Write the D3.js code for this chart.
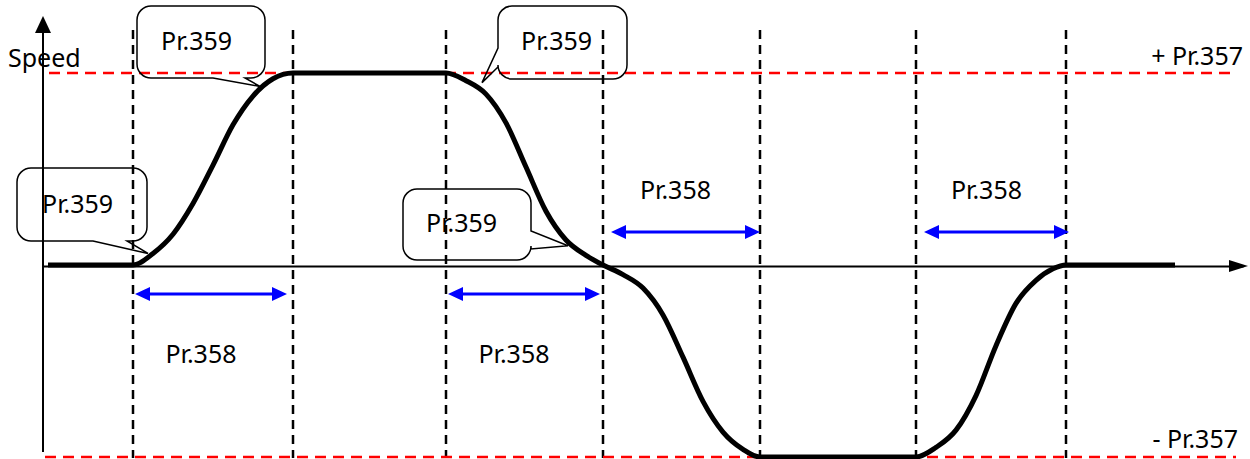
<!DOCTYPE html>
<html>
<head>
<meta charset="utf-8">
<script src="https://cdn.jsdelivr.net/npm/d3@7"></script>
<style>
  html, body { margin: 0; padding: 0; background: #fff; }
  svg { display: block; font-family: "Noto Sans", "Open Sans", sans-serif; }
</style>
</head>
<body>
<svg id="chart" width="1250" height="459"></svg>
<script>
// Time instants of the dashed markers (s-curve phase boundaries)
const timeKnots = [0.90, 2.50, 4.03, 5.60, 7.17, 8.73, 10.23];

// Speed profile (time, normalised speed)
const curveTime = [0.05, 0.90, 1.10, 1.30, 1.50, 1.70, 1.90, 2.10, 2.30, 2.50,
  4.03, 4.23, 4.43, 4.63, 4.83, 5.03, 5.23, 5.43, 5.60,
  5.80, 6.00, 6.20, 6.40, 6.60, 6.80, 7.00, 7.17,
  8.73, 8.93, 9.13, 9.33, 9.53, 9.73, 9.93, 10.10, 10.23, 11.32];
const curveSpeed = [0, 0, 0.06, 0.16, 0.32, 0.52, 0.73, 0.88, 0.97, 1,
  1, 0.96, 0.89, 0.74, 0.51, 0.28, 0.13, 0.05, 0,
  -0.05, -0.12, -0.26, -0.48, -0.71, -0.87, -0.96, -1,
  -1, -0.95, -0.86, -0.68, -0.42, -0.20, -0.08, -0.02, 0, 0];

// Speed limits
const limitValues = [1, -1];
const limitLabels = ["+ Pr.357", "- Pr.357"];

// Accel-time spans (between knot indices)
const spanFrom = [0, 2, 3, 5];
const spanTo = [1, 3, 4, 6];
const spanLabels = ["Pr.358", "Pr.358", "Pr.358", "Pr.358"];

// S-curve callouts (tip location in data units)
const calloutTime = [2.17, 4.39, 1.05, 5.25];
const calloutSpeed = [0.93, 0.95, 0.06, 0.10];
const calloutLabels = ["Pr.359", "Pr.359", "Pr.359", "Pr.359"];

const svg = d3.select("#chart");

const x = d3.scaleLinear().domain([0, 12]).range([43, 1243]);
const y = d3.scaleLinear().domain([-1, 1]).range([457, 73]);

const FONT = "25px";

// ---------------------------------------------------------------
// Reference lines
// ---------------------------------------------------------------

// vertical dashed phase markers
svg.append("g")
  .selectAll("line")
  .data(timeKnots)
  .join("line")
  .attr("x1", d => x(d)).attr("x2", d => x(d))
  .attr("y1", 30).attr("y2", 458)
  .attr("stroke", "#000")
  .attr("stroke-width", 2.5)
  .attr("stroke-dasharray", "9,6");

// red dashed speed limits
svg.append("g")
  .selectAll("line")
  .data(limitValues)
  .join("line")
  .attr("x1", d => d > 0 ? 49 : 45)
  .attr("x2", 1236)
  .attr("y1", d => y(d)).attr("y2", d => y(d))
  .attr("stroke", "#ff0000")
  .attr("stroke-width", 2.5)
  .attr("stroke-dasharray", "11,7");

svg.append("g")
  .selectAll("text")
  .data(limitValues)
  .join("text")
  .attr("x", (d, i) => i === 0 ? 1243 : 1238)
  .attr("y", d => d > 0 ? 65 : 448)
  .attr("text-anchor", "end")
  .style("font-size", FONT)
  .text((d, i) => limitLabels[i]);

// ---------------------------------------------------------------
// Axes
// ---------------------------------------------------------------

svg.append("g")
  .attr("transform", `translate(0,${y(0) + 1})`)
  .call(d3.axisBottom(x).tickValues([]).tickSizeOuter(0))
  .call(g => g.select(".domain").attr("stroke", "#000").attr("stroke-width", 2));

svg.append("path")
  .attr("d", `M${x(12) - 14},${y(0) + 1 - 6}L${x(12) + 5},${y(0) + 1}L${x(12) - 14},${y(0) + 1 + 6}Z`)
  .attr("fill", "#000");

svg.append("line")
  .attr("x1", x(0)).attr("x2", x(0))
  .attr("y1", 30).attr("y2", 452)
  .attr("stroke", "#000")
  .attr("stroke-width", 2);

svg.append("path")
  .attr("d", `M${x(0) - 8},33L${x(0)},16L${x(0) + 8},33Z`)
  .attr("fill", "#000");

svg.append("text")
  .attr("x", 8).attr("y", 67)
  .style("font-size", FONT)
  .text("Speed");

// ---------------------------------------------------------------
// Speed curve
// ---------------------------------------------------------------

const line = d3.line()
  .x((d, i) => x(curveTime[i]))
  .y(d => y(d))
  .curve(d3.curveMonotoneX);

svg.append("path")
  .datum(curveSpeed)
  .attr("fill", "none")
  .attr("stroke", "#000")
  .attr("stroke-width", 5)
  .attr("stroke-linejoin", "round")
  .attr("d", line);

// ---------------------------------------------------------------
// Blue span arrows
// ---------------------------------------------------------------

const spanY = [294, 294, 232, 232];
const spanG = svg.append("g");
spanFrom.forEach((f, i) => {
  const x0 = x(timeKnots[f]) + 2;
  const x1 = x(timeKnots[spanTo[i]]) - (i % 2 === 0 ? 6 : 3);
  const yy = spanY[i];
  const a0 = i >= 2 ? x0 + 6 : x0;
  const a1 = i >= 2 ? x1 + 6 : x1;
  spanG.append("line")
    .attr("x1", a0 + 10).attr("x2", a1 - 10)
    .attr("y1", yy).attr("y2", yy)
    .attr("stroke", "#0000ff").attr("stroke-width", 3);
  spanG.append("path")
    .attr("d", `M${a0},${yy}L${a0 + 15},${yy - 7}L${a0 + 15},${yy + 7}Z`)
    .attr("fill", "#0000ff");
  spanG.append("path")
    .attr("d", `M${a1},${yy}L${a1 - 15},${yy - 7}L${a1 - 15},${yy + 7}Z`)
    .attr("fill", "#0000ff");
  spanG.append("text")
    .attr("x", (a0 + a1) / 2 - 10)
    .attr("y", i >= 2 ? 199 : 363)
    .attr("text-anchor", "middle")
    .style("font-size", FONT)
    .text(spanLabels[i]);
});

// ---------------------------------------------------------------
// Callouts
// ---------------------------------------------------------------

// box layout for each callout: [x0, y0, x1, y1], tail side and tail base
const boxes = [
  { b: [137, 6, 265, 78], side: "bottom", t: [213, 245], tx: 161, ty: 50 },
  { b: [498, 6, 627, 79], side: "left", t: [48, 67], tx: 521, ty: 50 },
  { b: [17, 168, 147, 241], side: "bottom", t: [93, 127], tx: 42, ty: 213 },
  { b: [403, 189, 531, 260], side: "right", t: [231, 249], tx: 426, ty: 232 }
];

function calloutPath(box, tip) {
  const [x0, y0, x1, y1] = box.b;
  const r = 14;
  const p = d3.path();
  p.moveTo(x0 + r, y0);
  p.lineTo(x1 - r, y0);
  p.arcTo(x1, y0, x1, y0 + r, r);
  if (box.side === "right") {
    p.lineTo(x1, box.t[0]);
    p.lineTo(tip[0], tip[1]);
    p.lineTo(x1, box.t[1]);
  }
  p.lineTo(x1, y1 - r);
  p.arcTo(x1, y1, x1 - r, y1, r);
  if (box.side === "bottom") {
    p.lineTo(box.t[1], y1);
    p.lineTo(tip[0], tip[1]);
    p.lineTo(box.t[0], y1);
  }
  p.lineTo(x0 + r, y1);
  p.arcTo(x0, y1, x0, y1 - r, r);
  if (box.side === "left") {
    p.lineTo(x0, box.t[1]);
    p.lineTo(tip[0], tip[1]);
    p.lineTo(x0, box.t[0]);
  }
  p.lineTo(x0, y0 + r);
  p.arcTo(x0, y0, x0 + r, y0, r);
  p.closePath();
  return p.toString();
}

const calloutG = svg.append("g");
calloutTime.forEach((t, i) => {
  const tip = [x(t), y(calloutSpeed[i])];
  const box = boxes[i];
  calloutG.append("path")
    .attr("d", calloutPath(box, tip))
    .attr("fill", "none")
    .attr("stroke", "#000")
    .attr("stroke-width", 1.5);
  calloutG.append("text")
    .attr("x", box.tx).attr("y", box.ty)
    .style("font-size", FONT)
    .text(calloutLabels[i]);
});
</script>
</body>
</html>
